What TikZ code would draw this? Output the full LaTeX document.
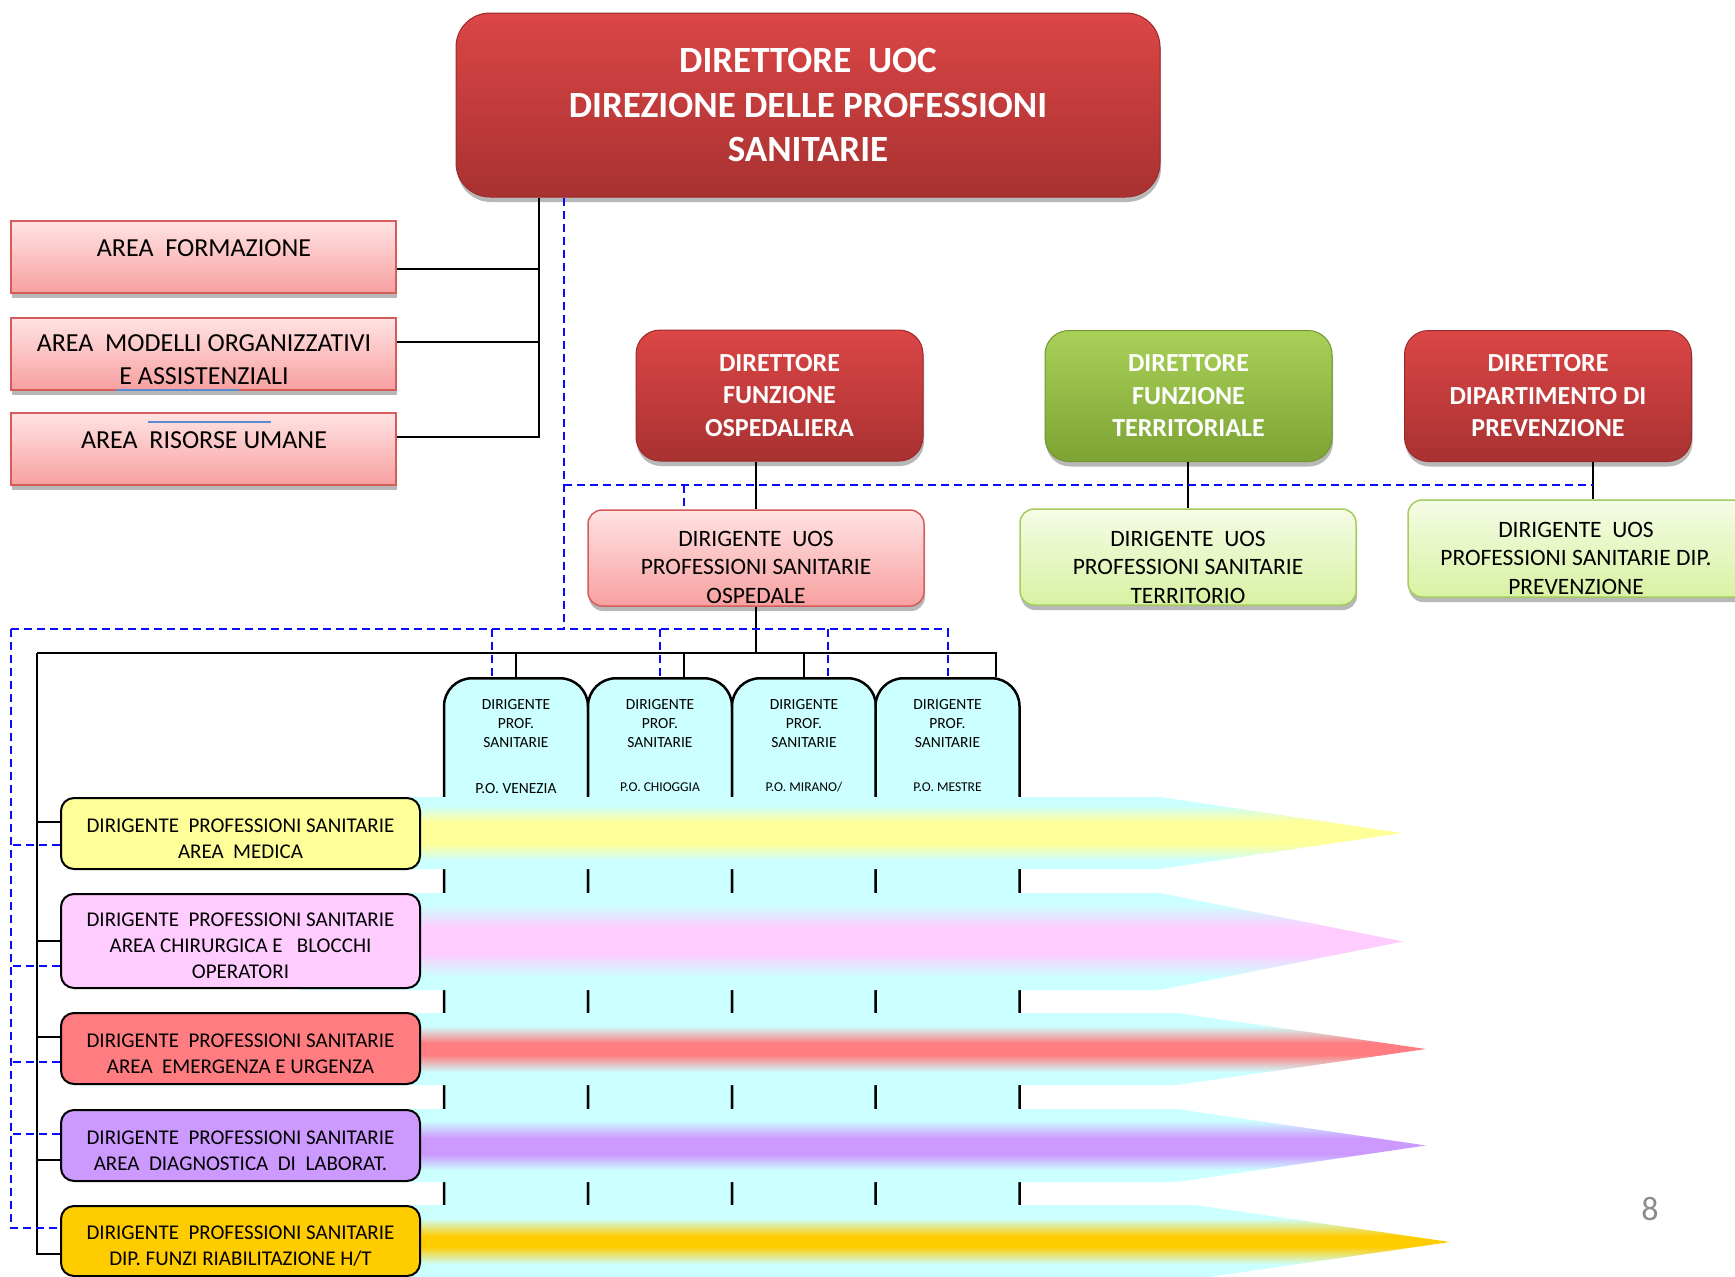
\documentclass[tikz,border=0pt]{standalone}
\usepackage{fontspec}
\setmainfont{Carlito}
\usetikzlibrary{shadows}
\usetikzlibrary{positioning}

\definecolor{redtop}{HTML}{DC4646}
\definecolor{redbot}{HTML}{A83131}
\definecolor{redline}{HTML}{9C2C2C}
\definecolor{greentop}{HTML}{A9D158}
\definecolor{greenbot}{HTML}{7DA334}
\definecolor{greenline}{HTML}{6F962C}
\definecolor{areatop}{HTML}{FFE3E3}
\definecolor{areabot}{HTML}{F8A0A0}
\definecolor{arealine}{HTML}{D65C5B}
\definecolor{uosgreentop}{HTML}{F5FCE6}
\definecolor{uosgreenbot}{HTML}{D9F2A3}
\definecolor{uosgreenline}{HTML}{A5CC5C}
\definecolor{tabcyan}{HTML}{CCFFFF}
\definecolor{bandyellow}{HTML}{FFFF99}
\definecolor{bandpink}{HTML}{FFCCFF}
\definecolor{bandred}{HTML}{FF7C80}
\definecolor{bandpurple}{HTML}{CC99FF}
\definecolor{bandorange}{HTML}{FFCC00}
\definecolor{dashblue}{HTML}{0A0AFF}
\definecolor{spellblue}{HTML}{5B8BD0}
\definecolor{pagegray}{HTML}{8C8C8C}

% the band itself covers 25bp..75bp of the shading
\newcommand{\bandshading}[6]{%
  \pgfdeclareverticalshading{#1}{100bp}{color(0bp)=(tabcyan); color(#3bp)=(tabcyan);
    color(#4bp)=(#2); color(#5bp)=(#2); color(#6bp)=(tabcyan); color(100bp)=(tabcyan)}}
\bandshading{shadeyellow}{bandyellow}{31}{42.5}{57.5}{69}
\bandshading{shadepink}{bandpink}{32}{44}{57}{69}
\bandshading{shadered}{bandred}{34}{46}{54}{66}
\bandshading{shadepurple}{bandpurple}{33}{44}{55}{67}
\bandshading{shadeorange}{bandorange}{35}{47}{54}{66}
\newcommand{\lowtext}{\rule{0pt}{24pt}}

\begin{document}
\begin{tikzpicture}[x=1pt,y=-1pt,
    link/.style={draw=black,line width=2pt},
    dash link/.style={draw=dashblue,line width=2pt,dash pattern=on 8pt off 5pt},
    soft shadow/.style={drop shadow={shadow xshift=1pt,shadow yshift=-5pt,opacity=0.28,fill=black}},
    top node/.style={soft shadow,rounded corners=34pt,draw=redline,line width=1pt,top color=redtop,bottom color=redbot,
      text=white,align=center,font=\fontsize{37}{44.5}\selectfont\bfseries},
    dir node/.style={soft shadow,rounded corners=24pt,draw=redline,line width=1pt,top color=redtop,bottom color=redbot,
      text=white,align=center,font=\fontsize{26}{32.5}\selectfont\bfseries,minimum width=287pt,minimum height=131pt},
    green node/.style={dir node,draw=greenline,top color=greentop,bottom color=greenbot},
    area node/.style={soft shadow,draw=arealine,line width=2pt,top color=areatop,bottom color=areabot,
      minimum width=385pt,minimum height=72pt},
    area text/.style={align=center,font=\fontsize{26}{33}\selectfont},
    uos node/.style={soft shadow,rounded corners=14pt,draw=arealine,line width=1.5pt,top color=areatop,bottom color=areabot,
      minimum width=336pt,minimum height=96pt},
    uos green/.style={uos node,draw=uosgreenline,top color=uosgreentop,bottom color=uosgreenbot},
    uos text/.style={align=center,font=\fontsize{23.5}{28.5}\selectfont},
    tab node/.style={rounded corners=28pt,draw=black,line width=2.5pt,fill=tabcyan,minimum width=144pt,minimum height=660pt,anchor=north},
    tab text/.style={align=center,font=\fontsize{15.5}{19}\selectfont},
    po text/.style={font=\fontsize{13.5}{16}\selectfont},
    area box/.style={rounded corners=13pt,draw=black,line width=2pt,minimum width=359pt,align=center,font=\fontsize{21}{26}\selectfont},
    spell line/.style={draw=spellblue,line width=1.5pt}]

  \useasboundingbox (0,0) rectangle (1735,1277);
  \fill[white] (0,0) rectangle (1735,1277);

  % presidi ospedalieri
  \node[tab node] (tab1) at (516,677) {};
  \node[tab node] (tab2) at (660,677) {};
  \node[tab node] (tab3) at (804,677) {};
  \node[tab node] (tab4) at (947.5,677) {};
  \node[tab text] (tab1txt) at (516,724) {DIRIGENTE\\PROF.\\SANITARIE};
  \node[tab text] (tab2txt) at (660,724) {DIRIGENTE\\PROF.\\SANITARIE};
  \node[tab text] (tab3txt) at (804,724) {DIRIGENTE\\PROF.\\SANITARIE};
  \node[tab text] (tab4txt) at (947.5,724) {DIRIGENTE\\PROF.\\SANITARIE};
  \node[tab text] (po1) at (516,789) {P.O. VENEZIA};
  \node[po text] (po2) at (660,787) {P.O. CHIOGGIA};
  \node[po text] (po3) at (804,787) {P.O. MIRANO/};
  \node[po text] (po4) at (947.5,787) {P.O. MESTRE};

  \shade[shading=shadeyellow] (300,797) -- (1160,797) -- (1402,833) -- (1160,869) -- (300,869) -- cycle;
  \shade[shading=shadepink] (300,893) -- (1160,893) -- (1403,941.5) -- (1160,990) -- (300,990) -- cycle;
  \shade[shading=shadered] (300,1013) -- (1177,1013) -- (1426,1049) -- (1177,1085) -- (300,1085) -- cycle;
  \shade[shading=shadepurple] (300,1109) -- (1177,1109) -- (1426,1145.5) -- (1177,1182) -- (300,1182) -- cycle;
  \shade[shading=shadeorange] (300,1205) -- (1195,1205) -- (1450,1242) -- (1195,1279) -- (300,1279) -- cycle;

  % aree dipartimentali
  \node[area box,fill=bandyellow,minimum height=71pt] (medbox) at (240.5,833.5)
    {\lowtext DIRIGENTE\ \ PROFESSIONI SANITARIE\\AREA\ \ MEDICA};
  \node[area box,fill=bandpink,minimum height=94pt] (chirbox) at (240.5,941)
    {\lowtext DIRIGENTE\ \ PROFESSIONI SANITARIE\\AREA CHIRURGICA E\ \ \ BLOCCHI\\OPERATORI};
  \node[area box,fill=bandred,minimum height=71pt] (emerbox) at (240.5,1048.5)
    {\lowtext DIRIGENTE\ \ PROFESSIONI SANITARIE\\AREA\ \ EMERGENZA E URGENZA};
  \node[area box,fill=bandpurple,minimum height=71pt] (diagbox) at (240.5,1145.5)
    {\lowtext DIRIGENTE\ \ PROFESSIONI SANITARIE\\AREA\ \ DIAGNOSTICA\ \ DI\ \ LABORAT.};
  \node[area box,fill=bandorange,minimum height=70pt] (riabbox) at (240.5,1241)
    {\lowtext DIRIGENTE\ \ PROFESSIONI SANITARIE\\DIP. FUNZI RIABILITAZIONE H/T};

  % direzione
  \node[top node,minimum width=704pt,minimum height=184pt] (dirtop) at (808,105)
    {DIRETTORE\ \ UOC\\DIREZIONE DELLE PROFESSIONI\\SANITARIE};

  \node[area node] (form) at (203.5,257) {};
  \node[area node] (model) at (203.5,353.5) {};
  \node[area node] (risorse) at (203.5,449) {};
  \node[area text] (formtxt) at (204,248) {AREA\ \ FORMAZIONE};
  \node[area text] (modeltxt) at (204,359.5) {AREA\ \ MODELLI ORGANIZZATIVI\\E ASSISTENZIALI};
  \node[area text] (risorsetxt) at (204,440) {AREA\ \ RISORSE UMANE};
  \draw[spell line] (116,390) -- (239,390);
  \draw[spell line] (148,422) -- (271,422);

  \node[dir node] (dirosp) at (779.5,395.5) {DIRETTORE\\FUNZIONE\\OSPEDALIERA};
  \node[green node] (dirterr) at (1188.5,396) {DIRETTORE\\FUNZIONE\\TERRITORIALE};
  \node[dir node] (dirprev) at (1548,396) {DIRETTORE\\DIPARTIMENTO DI\\PREVENZIONE};

  \node[uos node] (uososp) at (756,558) {};
  \node[uos green] (uosterr) at (1188,557) {};
  \node[uos green,minimum width=340pt,minimum height=97pt] (uosprev) at (1578,548.5) {};
  \node[uos text] (uososptxt) at (756,567) {DIRIGENTE\ \ UOS\\PROFESSIONI SANITARIE\\OSPEDALE};
  \node[uos text] (uosterrtxt) at (1188,567) {DIRIGENTE\ \ UOS\\PROFESSIONI SANITARIE\\TERRITORIO};
  \node[uos text] (uosprevtxt) at (1576,558) {DIRIGENTE\ \ UOS\\PROFESSIONI SANITARIE DIP.\\PREVENZIONE};

  \node[text=pagegray,font=\fontsize{34}{40}\selectfont] (pagenum) at (1650,1209) {8};

  % linee gerarchiche
  \coordinate (spine) at (539,437);
  \coordinate (lbus) at (37,653);
  \coordinate (prevdrop) at (1593,487);
  \draw[link] (dirtop.south -| spine) -- (spine) -- ([yshift=12pt]risorse.east);
  \draw[link] ([yshift=-12pt]form.east) -- ([yshift=-12pt]form.east -| spine);
  \draw[link] ([yshift=12pt]model.east) -- ([yshift=12pt]model.east -| spine);
  \draw[link] (dirosp.south -| uososp.north) -- (uososp.north);
  \draw[link] (dirterr.south -| uosterr.north) -- (uosterr.north);
  \draw[link] (dirprev.south -| prevdrop) -- (uosprev.north -| prevdrop);
  \draw[link] (uososp.south) -- (uososp.south |- lbus);
  \draw[link] (lbus) -| ([xshift=48.5pt]tab4.north);
  \draw[link] (tab1.north |- lbus) -- (tab1.north);
  \draw[link] ([xshift=24pt]tab2.north |- lbus) -- ([xshift=24pt]tab2.north);
  \draw[link] (tab3.north |- lbus) -- (tab3.north);
  \draw[link] (lbus) |- ([yshift=-13pt]riabbox.west);
  \draw[link] ([yshift=11.5pt]medbox.west) -- ([yshift=11.5pt]medbox.west -| lbus);
  \draw[link] (chirbox.west) -- (chirbox.west -| lbus);
  \draw[link] ([yshift=11.5pt]emerbox.west) -- ([yshift=11.5pt]emerbox.west -| lbus);
  \draw[link] ([yshift=-14.5pt]diagbox.west) -- ([yshift=-14.5pt]diagbox.west -| lbus);

  % linee funzionali
  \coordinate (dmid) at (564,485);
  \coordinate (ldash) at (11,629);
  \draw[dash link] (dirtop.south -| dmid) -- (dmid |- ldash);
  \draw[dash link] (dmid) -- (dmid -| prevdrop);
  \draw[dash link] ([xshift=-72pt]uososp.north |- dmid) -- ([xshift=-72pt]uososp.north);
  \draw[dash link] (ldash) -| (tab4.north);
  \draw[dash link] ([xshift=-24pt]tab1.north |- ldash) -- ([xshift=-24pt]tab1.north);
  \draw[dash link] (tab2.north |- ldash) -- (tab2.north);
  \draw[dash link] ([xshift=24pt]tab3.north |- ldash) -- ([xshift=24pt]tab3.north);
  \draw[dash link] (ldash) |- ([yshift=13pt]riabbox.west);
  \draw[dash link] ([yshift=-11.5pt]medbox.west) -- ([yshift=-11.5pt]medbox.west -| ldash);
  \draw[dash link] ([yshift=-25pt]chirbox.west) -- ([yshift=-25pt]chirbox.west -| ldash);
  \draw[dash link] ([yshift=-13.5pt]emerbox.west) -- ([yshift=-13.5pt]emerbox.west -| ldash);
  \draw[dash link] ([yshift=11.5pt]diagbox.west) -- ([yshift=11.5pt]diagbox.west -| ldash);
\end{tikzpicture}
\end{document}
